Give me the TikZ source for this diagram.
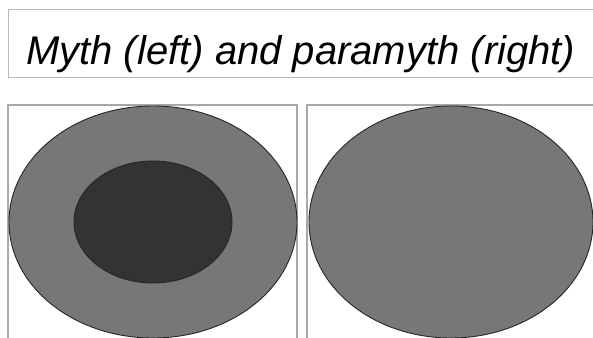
\documentclass[tikz,border=0pt]{standalone}
\usepackage{fontspec}
\setmainfont{Liberation Sans}
\usetikzlibrary{shapes.geometric}
\definecolor{frame}{HTML}{A8A8A8}
\definecolor{outerfill}{HTML}{777777}
\definecolor{innerfill}{HTML}{333333}
\tikzset{
  panel/.style={draw=frame, line width=1.3pt},
  blob/.style={ellipse, draw=black!85, line width=0.9pt, inner sep=0pt},
}
\begin{document}
\begin{tikzpicture}[x=1pt,y=-1pt]
\useasboundingbox (0,0) rectangle (593,337);
\clip (0,0) rectangle (593,337);
\draw[draw=frame!80, line width=1pt] (8,10) rectangle (610,77);
\node[anchor=base west, inner sep=0pt, font=\itshape\fontsize{40}{44}\selectfont] (title) at (26,64) {Myth (left) and paramyth (right)};
\draw[panel] (8,105) rectangle (297,345);
\draw[panel] (307,105) rectangle (610,345);
\node[blob, fill=outerfill, minimum width=288pt, minimum height=232pt] (myth) at (153,222) {};
\node[blob, fill=innerfill, minimum width=158pt, minimum height=122pt] (core) at (153,222) {};
\node[blob, fill=outerfill, minimum width=284pt, minimum height=232pt] (paramyth) at (451,222) {};
\end{tikzpicture}
\end{document}
